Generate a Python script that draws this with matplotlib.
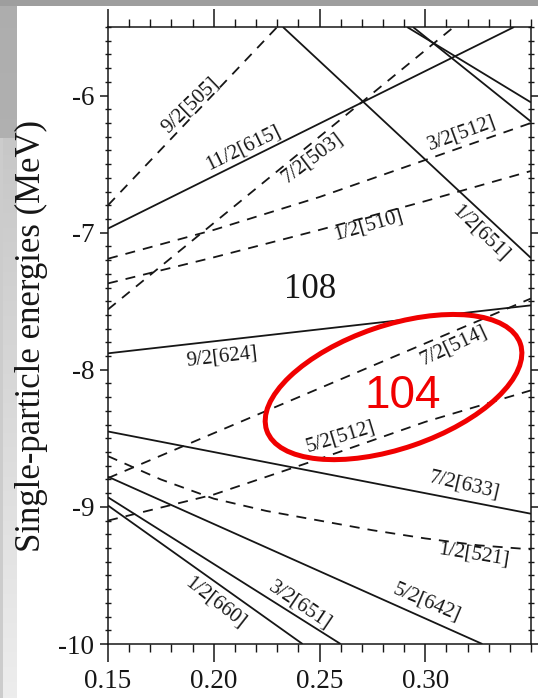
import numpy as np
import matplotlib
matplotlib.use("Agg")
import matplotlib.pyplot as plt
from matplotlib.patches import Ellipse
from matplotlib.transforms import ScaledTranslation
from matplotlib.ticker import FixedLocator, MultipleLocator, FormatStrFormatter

plt.rcParams["font.family"] = ["Liberation Serif", "DejaVu Serif"]
plt.rcParams["axes.unicode_minus"] = False
plt.rcParams["lines.scale_dashes"] = False

# ---- Nilsson single-particle levels: deformation eps2 vs energy (MeV) ----
eps_9_2_505 = [0.150, 0.230]
e_9_2_505 = [-6.80, -5.50]

eps_11_2_615 = [0.150, 0.342]
e_11_2_615 = [-6.97, -5.50]

eps_1_2_651 = [0.2327, 0.350]
e_1_2_651 = [-5.50, -7.185]

eps_upper_a = [0.2914, 0.350]
e_upper_a = [-5.50, -6.05]

eps_upper_b = [0.2942, 0.350]
e_upper_b = [-5.50, -6.19]

eps_3_2_512 = [0.15, 0.20, 0.25, 0.30, 0.35]
e_3_2_512 = [-7.19, -6.98, -6.74, -6.47, -6.20]

eps_1_2_510 = [0.15, 0.20, 0.25, 0.30, 0.35]
e_1_2_510 = [-7.37, -7.18, -6.98, -6.77, -6.55]

eps_7_2_503 = [0.150, 0.3135]
e_7_2_503 = [-7.56, -5.50]

eps_9_2_624 = [0.15, 0.35]
e_9_2_624 = [-7.88, -7.53]

eps_7_2_514 = [0.15, 0.35]
e_7_2_514 = [-8.79, -7.48]

eps_5_2_512 = [0.15, 0.20, 0.25, 0.30, 0.35]
e_5_2_512 = [-9.10, -8.91, -8.65, -8.38, -8.15]

eps_1_2_521 = [0.15, 0.175, 0.20, 0.225, 0.25, 0.275, 0.30, 0.325, 0.35]
e_1_2_521 = [-8.63, -8.80, -8.94, -9.03, -9.10, -9.17, -9.23, -9.28, -9.31]

eps_7_2_633 = [0.15, 0.35]
e_7_2_633 = [-8.45, -9.05]

eps_5_2_642 = [0.150, 0.327]
e_5_2_642 = [-8.78, -10.0]

eps_3_2_651 = [0.150, 0.260]
e_3_2_651 = [-8.93, -10.0]

eps_1_2_660 = [0.150, 0.242]
e_1_2_660 = [-8.99, -10.0]

# (label, eps, energy, parity)  parity '+' solid, '-' dashed
levels = [
    ("9/2[505]", eps_9_2_505, e_9_2_505, "-"),
    ("11/2[615]", eps_11_2_615, e_11_2_615, "+"),
    ("1/2[651]", eps_1_2_651, e_1_2_651, "+"),
    ("", eps_upper_a, e_upper_a, "+"),
    ("", eps_upper_b, e_upper_b, "+"),
    ("3/2[512]", eps_3_2_512, e_3_2_512, "-"),
    ("1/2[510]", eps_1_2_510, e_1_2_510, "-"),
    ("7/2[503]", eps_7_2_503, e_7_2_503, "-"),
    ("9/2[624]", eps_9_2_624, e_9_2_624, "+"),
    ("7/2[514]", eps_7_2_514, e_7_2_514, "-"),
    ("5/2[512]", eps_5_2_512, e_5_2_512, "-"),
    ("1/2[521]", eps_1_2_521, e_1_2_521, "-"),
    ("7/2[633]", eps_7_2_633, e_7_2_633, "+"),
    ("5/2[642]", eps_5_2_642, e_5_2_642, "+"),
    ("3/2[651]", eps_3_2_651, e_3_2_651, "+"),
    ("1/2[660]", eps_1_2_660, e_1_2_660, "+"),
]

x_ticks = [0.15, 0.20, 0.25, 0.30]
y_ticks = [-10, -9, -8, -7, -6]

# label placement: (eps, energy, screen rotation in degrees)
label_layout = {
    "9/2[505]": (0.1892, -6.069, 44),
    "11/2[615]": (0.2138, -6.383, 26),
    "7/2[503]": (0.2469, -6.455, 37),
    "3/2[512]": (0.3174, -6.273, 20),
    "1/2[510]": (0.2729, -6.944, 16),
    "1/2[651]": (0.3259, -7.003, -44),
    "9/2[624]": (0.2039, -7.907, 6.5),
    "7/2[514]": (0.3136, -7.827, 25),
    "5/2[512]": (0.2602, -8.491, 17),
    "7/2[633]": (0.3183, -8.841, -13),
    "1/2[521]": (0.3230, -9.351, -9),
    "5/2[642]": (0.3008, -9.701, -23),
    "3/2[651]": (0.2408, -9.716, -34),
    "1/2[660]": (0.2006, -9.701, -38),
}

ink = "#161616"
red = "#f00000"

W, H = 538, 698
fig = plt.figure(figsize=(W / 100, H / 100), dpi=100, facecolor="white")

# slide backdrop: grey band along the top and a grey gradient strip at the left
bg = np.ones((H, W, 3))
rows = np.arange(H)[:, None]
bg[:, :17, :] = (0.68 + 0.06 * rows / H)[:, :, None] * np.ones((1, 17, 1))
low = rows[138:, 0]
bg[138:, 3:17, :] = (0.78 + 0.15 * (low - 138) / (H - 138))[:, None, None]
bg[138:, :3, :] = 0.80
bg[:6, :, :] = 0.62
bax = fig.add_axes([0, 0, 1, 1], zorder=-10)
bax.imshow(bg, extent=(0, W, H, 0), aspect="auto", interpolation="nearest")
bax.set_xlim(0, W)
bax.set_ylim(H, 0)
bax.axis("off")

ax = fig.add_axes([108 / W, 1 - 644 / H, 423 / W, 617 / H])
ax.set_facecolor("white")
ax.set_xlim(0.15, 0.35)
ax.set_ylim(-10, -5.5)

for name, xs, ys, parity in levels:
    if parity == "+":
        ax.plot(xs, ys, color=ink, lw=1.3, solid_capstyle="butt")
    else:
        ax.plot(xs, ys, color=ink, lw=1.3, dashes=(7.2, 5.8))

for name, (lx, ly, rot) in label_layout.items():
    ax.text(lx, ly, name, fontsize=15, color=ink, rotation=rot,
            rotation_mode="anchor", ha="center", va="center")

ax.text(0.2455, -7.477, "108", fontsize=25, color=ink, ha="center", va="baseline")

# highlighted region around the N=104 gap
ell_tr = fig.dpi_scale_trans + ScaledTranslation(0.285, -8.126, ax.transData)
ax.add_patch(Ellipse((0, 0), 2.68, 1.23, angle=18.9, fill=False, ec=red, lw=3.6,
                     transform=ell_tr, clip_on=False, zorder=5))
ax.text(0.2895, -8.279, "104", fontsize=33, color=red, family="Liberation Sans",
        ha="center", va="baseline", zorder=6)

ax.xaxis.set_major_locator(FixedLocator(x_ticks))
ax.xaxis.set_minor_locator(MultipleLocator(0.01))
ax.xaxis.set_major_formatter(FormatStrFormatter("%.2f"))
ax.yaxis.set_major_locator(FixedLocator(y_ticks))
ax.yaxis.set_minor_locator(MultipleLocator(0.1))
ax.yaxis.set_major_formatter(FormatStrFormatter("%d"))

ax.tick_params(axis="x", which="major", direction="out", length=13, width=1.1,
               top=True, bottom=True, labeltop=False, pad=5, labelsize=19.5,
               colors=ink)
ax.tick_params(axis="x", which="minor", direction="out", length=6, width=1.0,
               top=True, bottom=True, colors=ink)
ax.tick_params(axis="y", which="major", direction="out", length=6, width=1.1,
               left=True, right=True, labelright=False, pad=4, labelsize=19.5,
               colors=ink)
ax.tick_params(axis="y", which="minor", direction="inout", length=5, width=1.0,
               left=True, right=True, colors=ink)
for sp in ax.spines.values():
    sp.set_color(ink)
    sp.set_linewidth(1.1)

ax.set_ylabel("Single-particle energies (MeV)", fontsize=25, color=ink)
ax.yaxis.set_label_coords(-0.142, 0.5)

fig.savefig("out.png", dpi=100, facecolor=fig.get_facecolor())
